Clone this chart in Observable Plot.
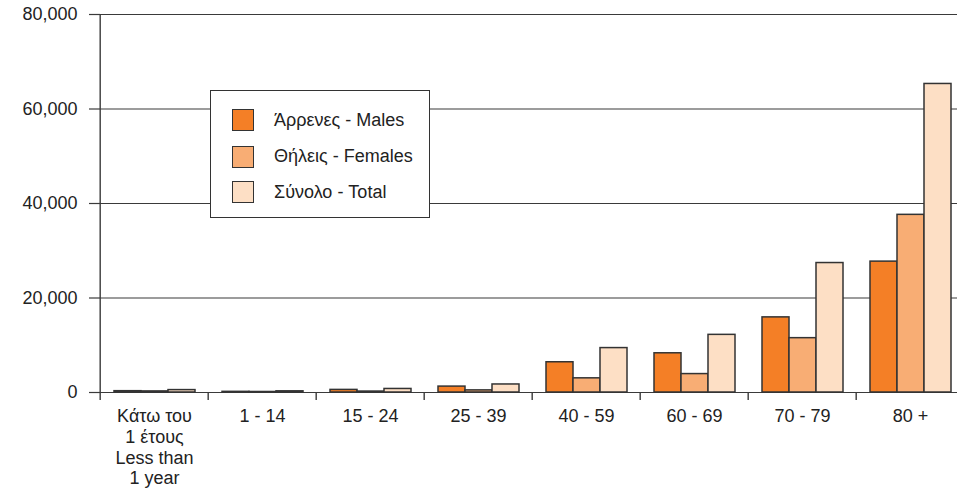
<!DOCTYPE html>
<html>
<head>
<meta charset="utf-8">
<script src="https://cdn.jsdelivr.net/npm/d3@7"></script>
<script src="https://cdn.jsdelivr.net/npm/@observablehq/plot@0.6"></script>
<style>
  html, body { margin: 0; padding: 0; background: #fff; overflow: hidden; }
  #wrap { position: relative; width: 957px; height: 492px; font-family: "Liberation Sans", Arial, sans-serif; color: #222; }
  #legend { position: absolute; left: 210px; top: 90px; width: 220px; height: 128px; box-sizing: border-box;
            border: 1px solid #333; background: #fff; }
  .row { position: absolute; left: 21px; height: 24px; display: flex; align-items: center; font-size: 18px; }
  .sw { width: 22px; height: 22px; box-sizing: border-box; border: 1.5px solid #333; margin-right: 20px; }
</style>
</head>
<body>
<div id="wrap"><div id="chart"></div><div id="legend"></div></div>
<script>
const categories = ["Κάτω του\n1 έτους\nLess than\n1 year", "1 - 14", "15 - 24", "25 - 39", "40 - 59", "60 - 69", "70 - 79", "80 +"];
const seriesNames = ["Άρρενες - Males", "Θήλεις - Females", "Σύνολο - Total"];
const seriesColors = ["#f47f26", "#f8ad74", "#fddfc5"];
const males   = [280, 140, 550, 1250, 6400, 8300, 15900, 27700];
const females = [230, 110, 200, 450, 3000, 3900, 11500, 37600];
const totals  = [510, 250, 750, 1700, 9400, 12200, 27400, 65300];
const yTicks = [0, 20000, 40000, 60000, 80000];

const seriesValues = [males, females, totals];
const rows = categories.flatMap((c, i) => seriesNames.map((s, k) => ({cat: c, series: s, value: seriesValues[k][i]})));

const fxRange = [97, 966];
const halfStep = (fxRange[1] - fxRange[0]) / categories.length / 2;
const axisColor = "#3a3a3a";

const chart = Plot.plot({
  width: 957,
  height: 492,
  marginLeft: 97,
  marginRight: 0,
  marginTop: 14,
  marginBottom: 100,
  style: {fontFamily: "'Liberation Sans', Arial, sans-serif", fontSize: "18px", color: "#222", background: "white"},
  fx: {domain: categories, range: fxRange, padding: 0, label: null},
  x: {domain: seriesNames, paddingInner: 0, paddingOuter: 0.5, axis: null},
  y: {domain: [0, 80000], label: null},
  color: {domain: seriesNames, range: seriesColors},
  marks: [
    Plot.ruleY(yTicks, {stroke: axisColor, strokeWidth: 1.2}),
    Plot.barY(rows, {fx: "cat", x: "series", y: "value", fill: "series", stroke: "#333", strokeWidth: 1.5}),
    Plot.ruleX([categories[0]], {fx: d => d, x: null, dx: -halfStep, y1: 0, y2: 80000, stroke: axisColor, strokeWidth: 1.4}),
    Plot.ruleX(categories, {fx: d => d, x: null, dx: -halfStep, y1: 0, y2: 0, insetBottom: -8, stroke: axisColor, strokeWidth: 1.4}),
    Plot.axisY({ticks: yTicks, tickSize: 11, tickPadding: 12, tickFormat: d3.format(","), fontSize: 18, stroke: axisColor, strokeWidth: 1.2, label: null, fill: "#222"}),
    Plot.axisFx({anchor: "bottom", tickSize: 0, tickPadding: 15, fontSize: 18, lineHeight: 1.15, label: null, fill: "#222"})
  ]
});
document.getElementById("chart").appendChild(chart);

const legend = document.getElementById("legend");
const rowTops = [108, 144.5, 180];
seriesNames.forEach((name, k) => {
  const r = document.createElement("div");
  r.className = "row";
  r.style.top = (rowTops[k] - 90 - 1) + "px";
  const sw = document.createElement("div");
  sw.className = "sw";
  sw.style.background = seriesColors[k];
  const t = document.createElement("span");
  t.textContent = name;
  r.appendChild(sw); r.appendChild(t);
  legend.appendChild(r);
});
</script>
</body>
</html>
